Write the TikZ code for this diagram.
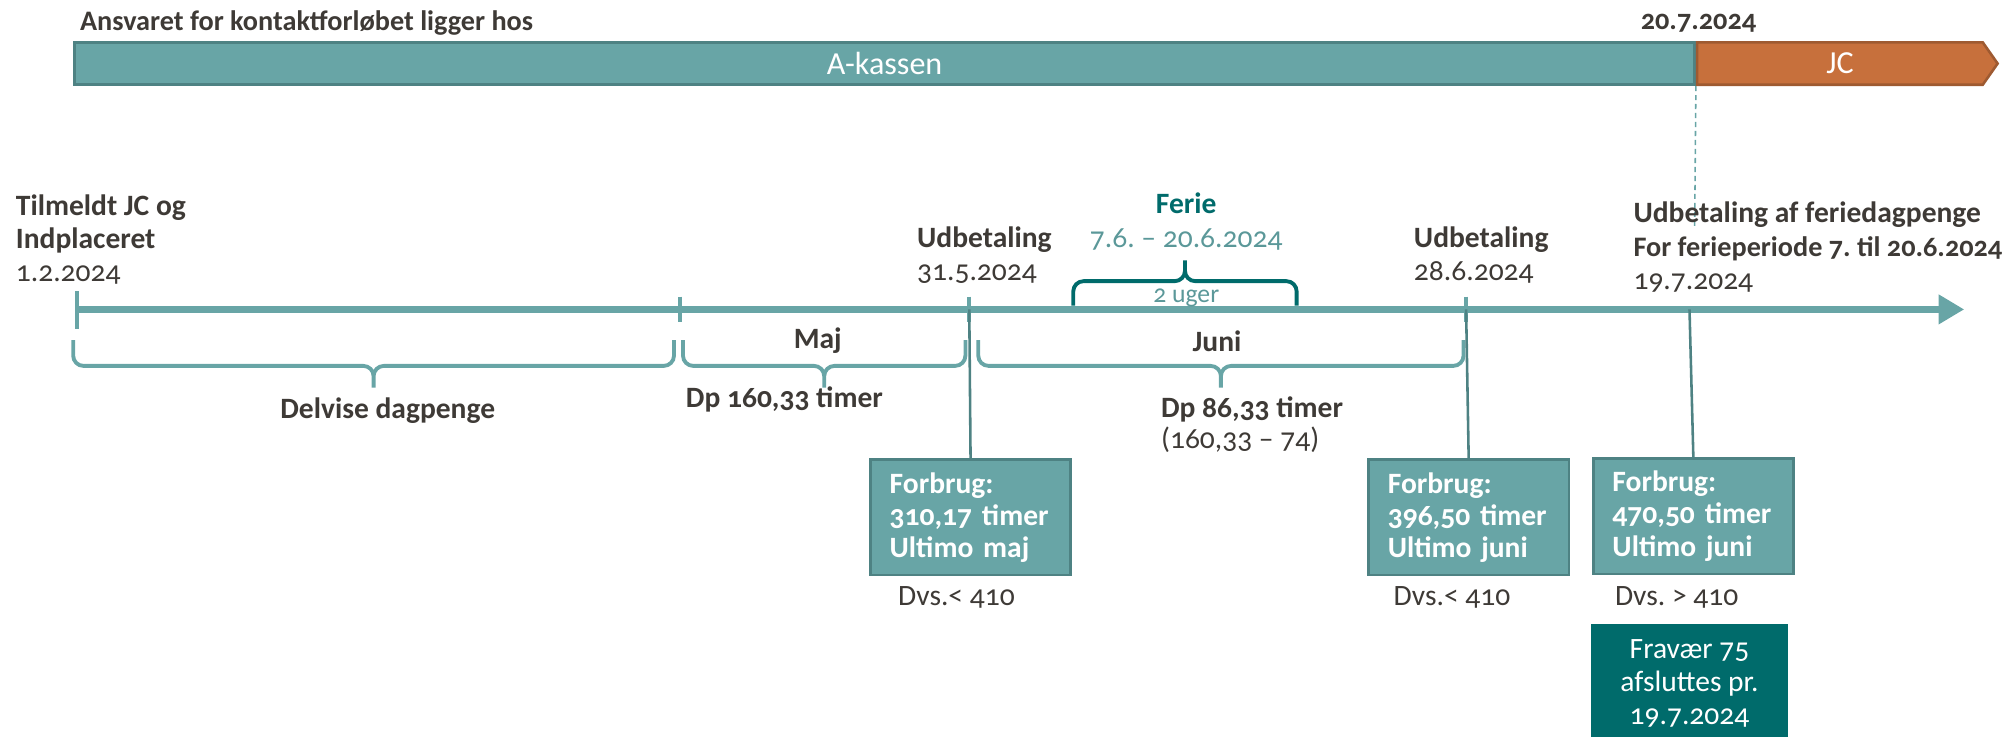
\documentclass[tikz,border=0pt]{standalone}
\usepackage{fontspec}
\setmainfont{Carlito}[Numbers=OldStyle]
\usepackage{tikz}
\usetikzlibrary{arrows.meta,calc,shapes.symbols}
\frenchspacing

\definecolor{teal1}{HTML}{68A5A6}
\definecolor{tealline}{HTML}{4E8283}
\definecolor{tealdark}{HTML}{006B6B}
\definecolor{tealtxt}{HTML}{5B9899}
\definecolor{orng}{HTML}{C7703C}
\definecolor{orngline}{HTML}{9E5A31}
\definecolor{ink}{HTML}{3E3A36}

\tikzset{
  tekst/.style={inner sep=0pt,text=ink,font=\fontsize{11.5}{13}\selectfont},
  fed/.style={tekst,font=\bfseries\fontsize{11.5}{13}\selectfont},
  tick/.style={teal1,line width=1.5pt},
  klamme/.style={teal1,line width=1.5pt,rounded corners=4pt,
    to path={(\tikztostart) -- ++(0,#1)
      -- ($(\tikztostart)!.5!(\tikztotarget)+(0,#1)$)
      -- ($(\tikztostart)!.5!(\tikztotarget)+(0,1.85*#1)$)
      (\tikztotarget) -- ++(0,#1)
      -- ($(\tikztostart)!.5!(\tikztotarget)+(0,#1)$)
      -- ($(\tikztostart)!.5!(\tikztotarget)+(0,1.85*#1)$)}},
  forbrug/.style={draw=tealline,line width=1pt,fill=teal1,text=white,anchor=north west,
    minimum width=78pt,minimum height=45pt,text width=63pt,inner xsep=7.5pt,inner ysep=0pt,
    align=left,font=\bfseries\fontsize{11.5}{12.5}\selectfont},
}

\begin{document}
\begin{tikzpicture}[x=0.5pt,y=-0.5pt]
\useasboundingbox (0,0) rectangle (1568,574);

% ansvar
\node[fed,anchor=west,font=\bfseries\fontsize{11}{12}\selectfont] (ansvar) at (62,18) {Ansvaret for kontaktforløbet ligger hos};
\node[fed,font=\bfseries\fontsize{11}{12}\selectfont] (skift) at (1323,18) {20.7.2024};
\node[draw=tealline,line width=1pt,fill=teal1,text=white,minimum width=631pt,minimum height=16.5pt,
  inner sep=0pt,font=\fontsize{12.5}{14}\selectfont] (akasse) at (689,49.5) {A-kassen};
\node[signal,signal to=east,signal pointer angle=110,draw=orngline,line width=1pt,fill=orng,text=white,
  minimum width=117pt,minimum height=16.5pt,inner sep=0pt,anchor=west,
  font=\fontsize{12.5}{14}\selectfont] (jc) at (akasse.east) {JC};
\coordinate (stiplet) at (1320,178);
\draw[teal1,line width=0.6pt,dash pattern=on 2pt off 1.5pt] (akasse.south east) -- (stiplet);

% tidslinje
\coordinate (start) at (60,241);
\coordinate (slut) at (1530,241);
\foreach \x/\navn in {530/t2,755/t3,1142/t4,1316/t5} \coordinate (\navn) at (\x,241);
\draw[teal1,line width=2.5pt,-{Triangle[length=10pt,width=11pt]}] (start) -- (slut);
\draw[tick] (60,227) -- (60,256);
\foreach \x in {530,755,1142} \draw[tick] (\x,231) -- (\x,251);

% over linjen
\node[fed,anchor=north west,align=left] (tilmeldt) at (12,151) {Tilmeldt JC og\\Indplaceret\\\mdseries 1.2.2024};
\node[fed,anchor=north west,align=left] (udb1) at (714,176) {Udbetaling\\\mdseries 31.5.2024};
\node[fed,anchor=north,align=center] (ferie) at (924,150) {\textcolor{tealdark}{Ferie}\\\mdseries\textcolor{tealtxt}{7.6. -- 20.6.2024}};
\coordinate (f1) at (836,238);
\coordinate (f2) at (1010,238);
\draw[klamme=-19,tealdark] (f1) to (f2);
\node[tekst,text=tealtxt,font=\fontsize{10}{11}\selectfont,anchor=base] (uger) at (924,236) {2 uger};
\node[fed,anchor=north west,align=left] (udb2) at (1101,176) {Udbetaling\\\mdseries 28.6.2024};
\node[fed,anchor=north west,align=left] (udb3) at (1272,157) {Udbetaling af feriedagpenge\\{\fontsize{11}{13}\selectfont For ferieperiode 7. til 20.6.2024}\\\mdseries 19.7.2024};

% under linjen
\coordinate (d1) at (57,265);
\coordinate (d2) at (525,265);
\coordinate (m1) at (532,265);
\coordinate (m2) at (752,265);
\coordinate (j1) at (762,265);
\coordinate (j2) at (1140,265);
\draw[klamme=20] (d1) to (d2);
\draw[klamme=20] (m1) to (m2);
\draw[klamme=20] (j1) to (j2);
\node[fed] (delvise) at (302,320) {Delvise dagpenge};
\node[fed] (maj) at (637,265) {Maj};
\node[fed] (dpmaj) at (611,311) {Dp 160,33 timer};
\node[fed] (juni) at (948,266) {Juni};
\node[fed,anchor=north west,align=left,font=\bfseries\fontsize{11.5}{12}\selectfont] (dpjuni) at (904,309) {Dp 86,33 timer\\\mdseries(160,33 -- 74)};

% forbrug
\node[forbrug] (b1) at (677,357) {Forbrug:\\310,17 timer\\Ultimo maj};
\node[forbrug] (b2) at (1065,357) {Forbrug:\\396,50 timer\\Ultimo juni};
\node[forbrug] (b3) at (1240,356) {Forbrug:\\470,50 timer\\Ultimo juni};
\draw[tealline,line width=1pt] (t3) -- (b1.north);
\draw[tealline,line width=1pt] (t4) -- (b2.north);
\draw[tealline,line width=1pt] (t5) -- (b3.north);
\node[tekst] (dvs1) at (745,465) {Dvs.< 410};
\node[tekst] (dvs2) at (1131,465) {Dvs.< 410};
\node[tekst] (dvs3) at (1306,465) {Dvs. > 410};
\node[fill=tealdark,text=white,anchor=north,minimum width=76.5pt,minimum height=46pt,inner sep=0pt,
  align=center,font=\fontsize{11.5}{12.75}\selectfont] (fravaer) at (1316,486) {Fravær 75\\afsluttes pr.\\19.7.2024};
\end{tikzpicture}
\end{document}
